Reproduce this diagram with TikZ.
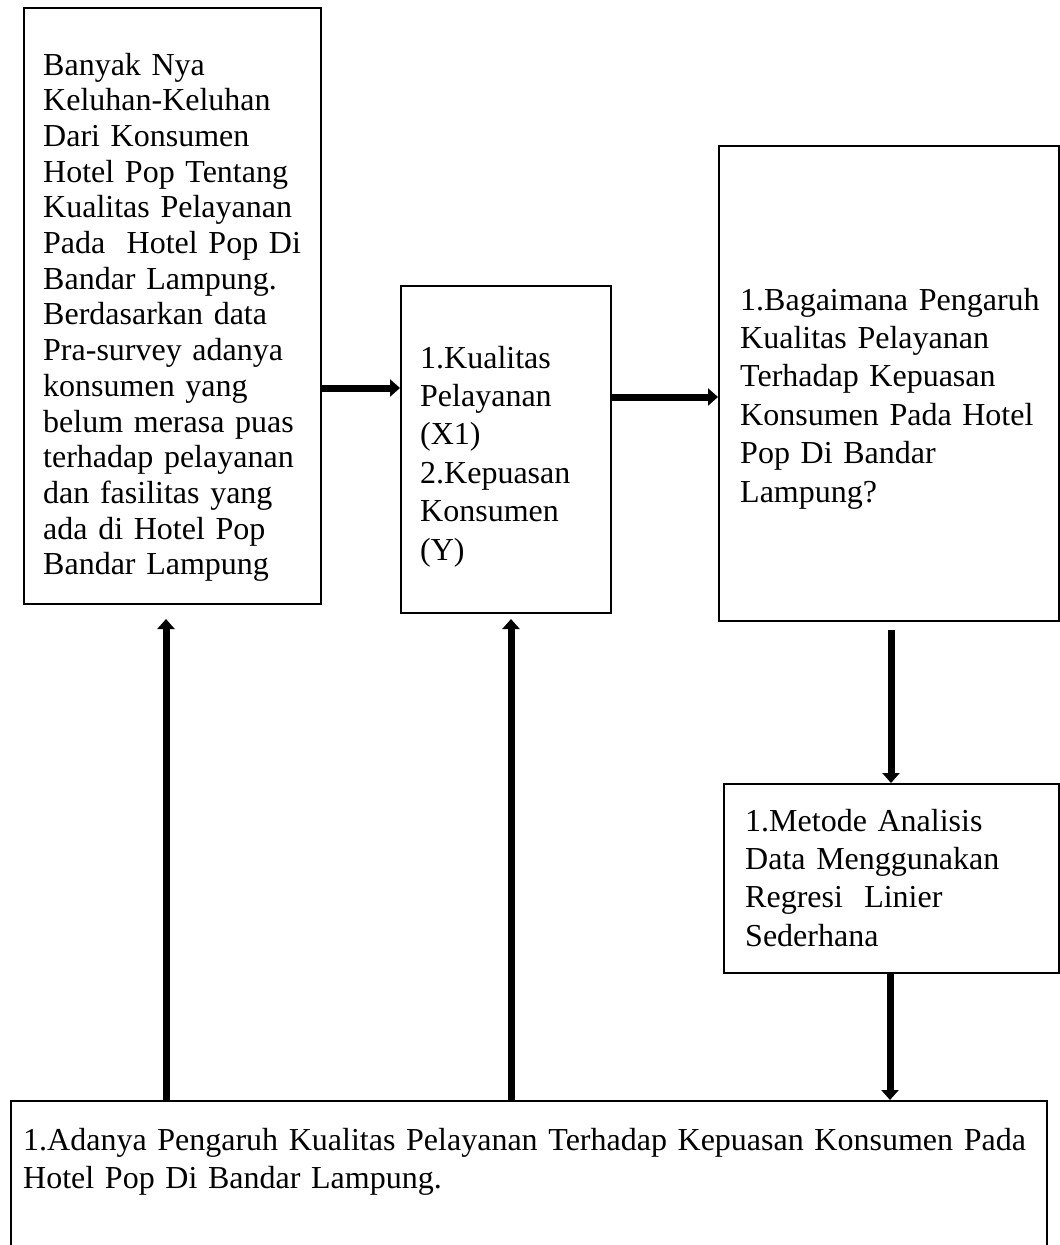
\documentclass[tikz,border=0pt]{standalone}
\usepackage{fontspec}
\setmainfont{Liberation Serif}
\usetikzlibrary{arrows.meta}
\begin{document}
\begin{tikzpicture}[x=1pt,y=-1pt,
  box/.style={draw, line width=2pt, rectangle, inner sep=0pt, anchor=north west},
  txt/.style={anchor=base west, inner sep=0pt, align=left, font=\fontsize{32}{38.4}\selectfont},
  arr/.style={line width=7pt, -{Triangle[width=17pt,length=10pt]}}]
\useasboundingbox[fill=white] (0,0) rectangle (1060,1245);
% boxes
\node[box, minimum width=297pt, minimum height=596pt] (b1) at (23,7) {};
\node[box, minimum width=210pt, minimum height=327pt] (b2) at (400,285) {};
\node[box, minimum width=340pt, minimum height=475pt] (b3) at (718,145) {};
\node[box, minimum width=335pt, minimum height=189pt] (b4) at (723,783) {};
\node[box, minimum width=1036pt, minimum height=160pt] (b5) at (10,1100) {};
% texts
\node[txt, text width=280pt, font=\fontsize{32}{35.7}\selectfont] (t1) at (43,75) {Banyak Nya\\Keluhan-Keluhan\\Dari Konsumen\\Hotel Pop Tentang\\Kualitas Pelayanan\\Pada\ \ Hotel Pop Di\\Bandar Lampung.\\Berdasarkan data\\Pra-survey adanya\\konsumen yang\\belum merasa puas\\terhadap pelayanan\\dan fasilitas yang\\ada di Hotel Pop\\Bandar Lampung};
\node[txt, text width=190pt] (t2) at (420,368) {1.Kualitas\\Pelayanan\\(X1)\\2.Kepuasan\\Konsumen\\(Y)};
\node[txt, text width=320pt] (t3) at (740,310) {1.Bagaimana Pengaruh\\Kualitas Pelayanan\\Terhadap Kepuasan\\Konsumen Pada Hotel\\Pop Di Bandar\\Lampung?};
\node[txt, text width=320pt] (t4) at (745,831) {1.Metode Analisis\\Data Menggunakan\\Regresi\ \ Linier\\Sederhana};
\node[txt, text width=1020pt] (t5) at (23,1150) {1.Adanya Pengaruh Kualitas Pelayanan Terhadap Kepuasan Konsumen Pada\\Hotel Pop Di Bandar Lampung.};
% arrows
\draw[arr] (b1.east |- 0,388) -- (b2.west |- 0,388);
\draw[arr] (b2.east |- 0,397) -- (b3.west |- 0,397);
\draw[arr, shorten <=8pt] (b3.south -| 891,0) -- (b4.north -| 891,0);
\draw[arr] (b4.south -| 890,0) -- (b5.north -| 890,0);
\draw[arr, shorten >=14pt] (b5.north -| 166,0) -- (b1.south -| 166,0);
\draw[arr, shorten >=5pt] (b5.north -| 511,0) -- (b2.south -| 511,0);
\end{tikzpicture}
\end{document}
